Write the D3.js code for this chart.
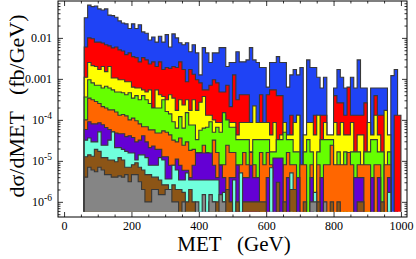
<!DOCTYPE html>
<html>
<head>
<meta charset="UTF-8">
<script src="https://d3js.org/d3.v7.min.js"></script>
<style>
  body { margin: 0; background: #fff; }
  svg { display: block; font-family: "Liberation Serif", "Times New Roman", serif; }
</style>
</head>
<body>
<script>
  // 10 GeV bins from 60 to 1000 GeV (lower edges)
  const metBins = d3.range(60, 1000, 10);
  const binWidth = 10;

  // dsigma/dMET (fb/GeV), one histogram per process, drawn in this order
  const blue = [3.1e-2,6.3e-2,5.8e-2,6.0e-2,5.1e-2,4.8e-2,5.1e-2,3.6e-2,3.5e-2,3.2e-2,
    2.6e-2,2.3e-2,2.2e-2,1.7e-2,2.2e-2,1.7e-2,2.1e-2,1.4e-2,1.3e-2,8.9e-3,
    1.05e-2,7.9e-3,1.1e-2,7.9e-3,1.2e-2,6.0e-3,1.25e-2,1.0e-2,7.6e-3,6.8e-3,
    7.6e-3,4.6e-3,6.8e-3,4.3e-3,1.25e-3,5.8e-3,4.3e-3,2.5e-3,4.3e-3,4.3e-3,
    5.8e-3,5.8e-3,2.0e-3,2.5e-3,2.5e-3,4.6e-3,2.6e-3,2.6e-3,2.9e-3,5.8e-3,
    2.9e-3,2.5e-3,1.9e-3,1.9e-3,6.3e-4,2.5e-3,2.5e-3,3.5e-3,2.5e-3,2.5e-3,
    6.3e-4,1.25e-3,1.7e-3,1.25e-3,1.9e-3,0,2.9e-3,1.9e-3,1.9e-3,1.1e-3,
    6e-4,1.1e-3,0,0,6e-4,1.7e-3,1.1e-3,6e-4,6e-4,1.1e-3,
    6e-4,2.9e-3,6e-4,6e-4,0,6e-4,6e-4,6e-4,6e-4,6e-4,
    0,1.2e-3,1.7e-3,0];
  const red = [6e-3,1e-2,9.5e-3,7.9e-3,7.9e-3,7.5e-3,6.8e-3,6.4e-3,5.7e-3,6e-3,
    5.1e-3,4.8e-3,3.9e-3,4.3e-3,3.5e-3,3.3e-3,2.6e-3,3.3e-3,2.9e-3,2.3e-3,
    2.6e-3,2.0e-3,2.6e-3,1.7e-3,1.9e-3,1.8e-3,2.0e-3,1.9e-3,2.6e-3,1.7e-3,
    8.5e-4,1.7e-3,1.3e-3,9.5e-4,8e-4,5.4e-4,5.4e-4,7e-4,9.5e-4,8e-4,
    4.8e-4,4.8e-4,7e-4,2.1e-4,1.25e-3,3.1e-4,4.1e-4,4.1e-4,4.1e-4,0,
    0,0,4.1e-4,0,4.1e-4,5.4e-4,5.4e-4,3.9e-4,3.9e-4,0,
    0,1.3e-4,0,1.3e-4,0,0,0,0,1.3e-4,0,
    1.3e-4,1.3e-4,0,0,3.9e-4,2.6e-4,2.6e-4,1.3e-4,6.3e-4,1.3e-4,
    1.3e-4,1.3e-4,1.3e-4,2.6e-4,0,0,3.9e-4,1.3e-4,1.3e-4,1.3e-4,
    0,0,1.3e-4,1.3e-4];
  const yellow = [1.1e-3,2.5e-3,2.1e-3,2.0e-3,1.7e-3,2.0e-3,1.5e-3,2.0e-3,1.05e-3,1.05e-3,
    9.5e-4,9.5e-4,8.5e-4,8.5e-4,6.3e-4,6e-4,6e-4,5.4e-4,4.8e-4,5.4e-4,
    1.95e-4,5.4e-4,4.1e-4,3.7e-4,3.1e-4,4.1e-4,3.4e-4,1.7e-4,3.1e-4,2.3e-4,
    3.1e-4,1.7e-4,3.1e-4,1.7e-4,2.7e-4,3.7e-4,1.3e-4,1.3e-4,1e-4,8.6e-5,
    8.6e-5,1.3e-4,8.6e-5,8.6e-5,8.6e-5,4.3e-5,8.6e-5,8.6e-5,8.6e-5,8.6e-5,
    2.2e-4,8.6e-5,8.6e-5,8.6e-5,8.6e-5,4.3e-5,8.6e-5,0,4.3e-5,8.6e-5,
    4.3e-5,4.3e-5,8.6e-5,1.3e-4,0,4.3e-5,8.6e-5,8.6e-5,4.3e-5,1.3e-4,
    0,8.6e-5,4.3e-5,4.3e-5,8.6e-5,4.3e-5,8.6e-5,4.3e-5,4.3e-5,8.6e-5,
    0,4.3e-5,4.3e-5,0,8.6e-5,4.3e-5,1.3e-4,4.3e-5,0,1.7e-4,
    4.3e-5,0,0,0];
  const green = [3.6e-4,9.5e-4,8e-4,7e-4,7e-4,6e-4,6.6e-4,6e-4,5.4e-4,4.8e-4,
    4.8e-4,4.6e-4,4.1e-4,4.6e-4,3.4e-4,3.9e-4,3.1e-4,3.9e-4,3.1e-4,2.5e-4,
    1.95e-4,1.95e-4,1.95e-4,3.1e-4,1.6e-4,1.4e-4,9e-5,6.3e-5,1.2e-4,6.3e-5,
    1.5e-4,7.5e-5,7.5e-5,3.3e-5,5.6e-5,6.3e-5,6.6e-5,9e-5,5e-5,6.6e-5,
    5e-5,1.5e-4,1e-4,6.6e-5,6.6e-5,3.3e-5,3.3e-5,3.3e-5,3.3e-5,1.66e-5,
    3.3e-5,3.3e-5,3.3e-5,3.3e-5,3.3e-5,1.66e-5,1.66e-5,3.3e-5,3.3e-5,5e-5,
    3.3e-5,3.3e-5,1.66e-5,1.66e-5,0,1.66e-5,3.3e-5,1.66e-5,0,1.66e-5,
    3.3e-5,3.3e-5,3.3e-5,3.3e-5,0,1.66e-5,0,1.66e-5,0,1.66e-5,
    1.66e-5,1.66e-5,0,1.66e-5,1.66e-5,3.3e-5,3.3e-5,1.66e-5,1.66e-5,0,
    1.66e-5,0,0,0];
  const orange = [1e-4,3.4e-4,3.1e-4,2.8e-4,2.5e-4,2.1e-4,1.95e-4,1.75e-4,1.75e-4,1.55e-4,
    1.3e-4,1.35e-4,1.25e-4,1e-4,1.1e-4,9.5e-5,8e-5,6.8e-5,6.8e-5,5.7e-5,
    5.7e-5,4.8e-5,4.8e-5,5.4e-5,5e-5,4.3e-5,3.2e-5,2.9e-5,3.6e-5,2.4e-5,
    2.9e-5,1.8e-5,1.9e-5,1.6e-5,1.6e-5,2.4e-5,1.6e-5,8e-6,3.2e-5,1.6e-5,
    8e-6,8e-6,2.4e-5,1.6e-5,1.6e-5,8e-6,8e-6,1.6e-5,8e-6,1.6e-5,
    8e-6,0,1.6e-5,8e-6,1.6e-5,8e-6,0,8e-6,0,8e-6,
    1.6e-5,8e-6,8e-6,0,8e-6,8e-6,0,8e-6,0,8e-6,
    0,8e-6,8e-6,2.4e-5,8e-6,8e-6,8e-6,8e-6,1.6e-5,8e-6,
    0,8e-6,8e-6,8e-6,8e-6,0,8e-6,8e-6,0,8e-6,
    8e-6,0,0,0];
  const purple = [5.8e-5,9e-5,8e-5,8e-5,8.5e-5,7.6e-5,6.5e-5,5.8e-5,5.1e-5,4.8e-5,
    4.6e-5,4.6e-5,3.9e-5,4.1e-5,3.7e-5,2.9e-5,3.2e-5,4.1e-5,2.9e-5,2.1e-5,
    2.3e-5,1.9e-5,1.9e-5,1.26e-5,1.26e-5,7.8e-6,7.8e-6,1.1e-5,7.8e-6,5.9e-6,
    5.9e-6,3.9e-6,7.8e-6,1.56e-5,1.56e-5,1.56e-5,1.56e-5,1.56e-5,7.8e-6,3.9e-6,
    7.8e-6,3.9e-6,0,3.9e-6,3.9e-6,7.8e-6,3.9e-6,3.9e-6,3.9e-6,7.8e-6,
    3.9e-6,3.9e-6,0,0,3.9e-6,3.9e-6,1.17e-5,1.17e-5,1.17e-5,0,
    3.9e-6,0,0,3.9e-6,0,0,0,3.9e-6,0,0,
    3.9e-6,0,0,0,0,0,0,0,0,0,
    3.9e-6,3.9e-6,3.9e-6,0,0,3.9e-6,0,3.9e-6,0,0,
    3.9e-6,0,0,0];
  const cyan = [3.2e-5,3.6e-5,2.9e-5,2.9e-5,5.1e-5,2.4e-5,2.4e-5,3.2e-5,5.1e-5,2.1e-5,
    2.1e-5,1.9e-5,1.7e-5,1.56e-5,1.56e-5,1.05e-5,1.4e-5,1.4e-5,1.2e-5,7.8e-6,
    7.8e-6,7.8e-6,1.2e-5,1.05e-5,3.6e-6,3.6e-6,7.8e-6,6e-6,3.4e-6,3.4e-6,
    5.1e-6,3.4e-6,3.4e-6,3.4e-6,3.4e-6,3.4e-6,3.4e-6,3.4e-6,3.4e-6,3.4e-6,
    0,1.7e-6,0,0,3.4e-6,0,5.1e-6,0,0,0,
    0,0,0,0,0,6.8e-6,0,0,0,0,
    0,5.1e-6,0,0,0,0,0,0,1.7e-6,0,
    0,0,0,0,0,0,0,0,0,0,
    0,0,0,0,0,0,0,0,0,0,
    1.7e-6,0,0,0];
  const brown = [1.26e-5,1.4e-5,1.3e-5,1.9e-5,1.7e-5,1.2e-5,1.2e-5,1.05e-5,1.05e-5,9.5e-6,
    1.2e-5,1.05e-5,7e-6,7e-6,8e-6,9e-6,7e-6,6e-6,4.6e-6,4.6e-6,
    4e-6,4e-6,3.4e-6,2.6e-6,2.6e-6,2e-6,2.6e-6,2e-6,2e-6,1.7e-6,
    1e-6,2e-6,1e-6,0,0,0,0,1e-6,1e-6,1e-6,
    1e-6,1e-6,2e-6,1e-6,0,1e-6,0,1e-6,1e-6,1e-6,
    1e-6,1e-6,1e-6,1e-6,0,0,0,3e-6,0,1e-6,
    0,2e-6,2e-6,0,0,1e-6,0,0,0,1e-6,
    0,0,0,1e-6,0,1e-6,0,0,0,0,
    0,1e-6,1e-6,0,0,0,0,0,1e-6,0,
    0,0,0,0];
  const gray = [4e-6,7e-6,6e-6,5.4e-6,7e-6,6e-6,4.6e-6,4.6e-6,4e-6,4e-6,
    4.3e-6,4e-6,4.6e-6,3.1e-6,4.6e-6,4.6e-6,3.1e-6,2e-6,1e-6,1e-6,
    2e-6,2e-6,1.5e-6,1.5e-6,2e-6,2e-6,1e-6,1e-6,0,1e-6,
    0,0,0,1e-6,0,1.5e-6,0,1.5e-6,1e-6,0,
    1.5e-6,1e-6,0,0,0,0,0,0,0,0,
    0,0,0,0,0,0,0,0,0,0,
    0,0,0,0,0,0,0,1e-6,1e-6,0,
    0,1e-6,0,0,0,0,0,0,0,0,
    0,0,0,0,0,0,0,0,0,0,
    0,0,0,0];

  const seriesValues = [blue, red, yellow, green, orange, purple, cyan, brown, gray];
  const seriesColors = ["#1f43f5", "#ff0000", "#ffff00", "#66ff00", "#ff6600",
                        "#6400d4", "#70ffdc", "#8c5516", "#858585"];

  const xTicks = [0, 200, 400, 600, 800, 1000];
  const yTickValues = [1e-2, 1e-3, 1e-4, 1e-5, 1e-6];
  const yTickText = ["0.01", "0.001", "10", "10", "10"];
  const yTickExp = ["", "", "-4", "-5", "-6"];

  const W = 416, H = 259;
  const frameLeft = 58, frameRight = 407, frameTop = 1, frameBottom = 217;

  const svg = d3.select("body").append("svg").attr("width", W).attr("height", H);

  const x = d3.scaleLinear().domain([-18, 1018]).range([frameLeft, frameRight]);
  const y = d3.scaleLog().domain([Math.pow(10, -6.37), Math.pow(10, -1.1)]).range([frameBottom, frameTop]);
  const base = Math.pow(10, -6.24);

  svg.append("clipPath").attr("id", "clip")
     .append("rect").attr("x", frameLeft).attr("y", frameTop)
     .attr("width", frameRight - frameLeft).attr("height", frameBottom - frameTop);

  // step outline points; zero bins break the outline
  function stepPoints(vals) {
    const pts = [];
    vals.forEach((v, i) => {
      const x0 = metBins[i], x1 = metBins[i] + binWidth;
      if (v > 0) {
        if (i === 0 || !(vals[i - 1] > 0)) pts.push({x: x0, v: base});
        pts.push({x: x0, v: v}, {x: x1, v: v});
        if (i === vals.length - 1 || !(vals[i + 1] > 0)) pts.push({x: x1, v: base});
      } else {
        pts.push({gap: true});
      }
    });
    return pts;
  }

  const area = d3.area().defined(d => !d.gap)
    .x(d => x(d.x)).y0(y(base)).y1(d => y(d.v));
  const line = d3.line().defined(d => !d.gap)
    .x(d => x(d.x)).y(d => y(d.v));

  const plot = svg.append("g").attr("clip-path", "url(#clip)");

  seriesValues.forEach((vals, k) => {
    const pts = stepPoints(vals);
    plot.append("path").attr("d", area(pts))
      .attr("fill", seriesColors[k]).attr("stroke", "none");
    plot.append("path").attr("d", line(pts))
      .attr("fill", "none").attr("stroke", "#383838").attr("stroke-width", 1.1);
  });

  // ticks on all four sides, pointing inward
  const xMinor = d3.range(0, 1001, 50).filter(v => v % 200 !== 0);
  const yMinor = [];
  [1e-7, 1e-6, 1e-5, 1e-4, 1e-3, 1e-2].forEach(d => {
    for (let k = 2; k <= 9; k++) {
      const v = d * k;
      if (v > y.domain()[0] && v < y.domain()[1]) yMinor.push(v);
    }
  });

  function styleAxis(g) {
    g.select(".domain").remove();
    g.selectAll("line").attr("stroke", "#000").attr("stroke-width", 0.8);
  }

  svg.append("g").attr("transform", `translate(0,${frameBottom})`)
     .call(d3.axisBottom(x).tickValues(xTicks).tickSize(-5).tickPadding(4).tickFormat(d3.format("d")))
     .call(styleAxis)
     .selectAll("text").attr("font-size", 12).attr("fill", "#000")
     .attr("font-family", "Liberation Serif, serif");
  svg.append("g").attr("transform", `translate(0,${frameBottom})`)
     .call(d3.axisBottom(x).tickValues(xMinor).tickSize(-2.5).tickFormat(""))
     .call(styleAxis);
  svg.append("g").attr("transform", `translate(0,${frameTop})`)
     .call(d3.axisTop(x).tickValues(xTicks).tickSize(-5).tickFormat(""))
     .call(styleAxis);
  svg.append("g").attr("transform", `translate(0,${frameTop})`)
     .call(d3.axisTop(x).tickValues(xMinor).tickSize(-2.5).tickFormat(""))
     .call(styleAxis);

  svg.append("g").attr("transform", `translate(${frameLeft},0)`)
     .call(d3.axisLeft(y).tickValues(yTickValues).tickSize(-5).tickFormat(""))
     .call(styleAxis);
  svg.append("g").attr("transform", `translate(${frameLeft},0)`)
     .call(d3.axisLeft(y).tickValues(yMinor).tickSize(-2.5).tickFormat(""))
     .call(styleAxis);
  svg.append("g").attr("transform", `translate(${frameRight},0)`)
     .call(d3.axisRight(y).tickValues(yTickValues).tickSize(-5).tickFormat(""))
     .call(styleAxis);
  svg.append("g").attr("transform", `translate(${frameRight},0)`)
     .call(d3.axisRight(y).tickValues(yMinor).tickSize(-2.5).tickFormat(""))
     .call(styleAxis);

  // y tick labels with superscript exponents
  yTickValues.forEach((v, i) => {
    const t = svg.append("text")
      .attr("x", frameLeft - 6).attr("y", y(v) + 4)
      .attr("text-anchor", "end").attr("font-size", 12).attr("fill", "#000");
    t.append("tspan").text(yTickText[i]);
    if (yTickExp[i]) {
      t.append("tspan").attr("dy", -5).attr("font-size", 9.5).text(yTickExp[i]);
    }
  });

  // frame
  svg.append("rect").attr("x", frameLeft).attr("y", frameTop)
     .attr("width", frameRight - frameLeft).attr("height", frameBottom - frameTop)
     .attr("fill", "none").attr("stroke", "#000").attr("stroke-width", 1);

  // axis titles
  svg.append("text")
     .attr("x", 234).attr("y", 251)
     .attr("text-anchor", "middle").attr("font-size", 21)
     .style("white-space", "pre")
     .text("MET   (GeV)");

  svg.append("text")
     .attr("transform", "translate(24,106) rotate(-90)")
     .attr("text-anchor", "middle").attr("font-size", 22)
     .style("white-space", "pre")
     .text("dσ/dMET   (fb/GeV)");
</script>
</body>
</html>
